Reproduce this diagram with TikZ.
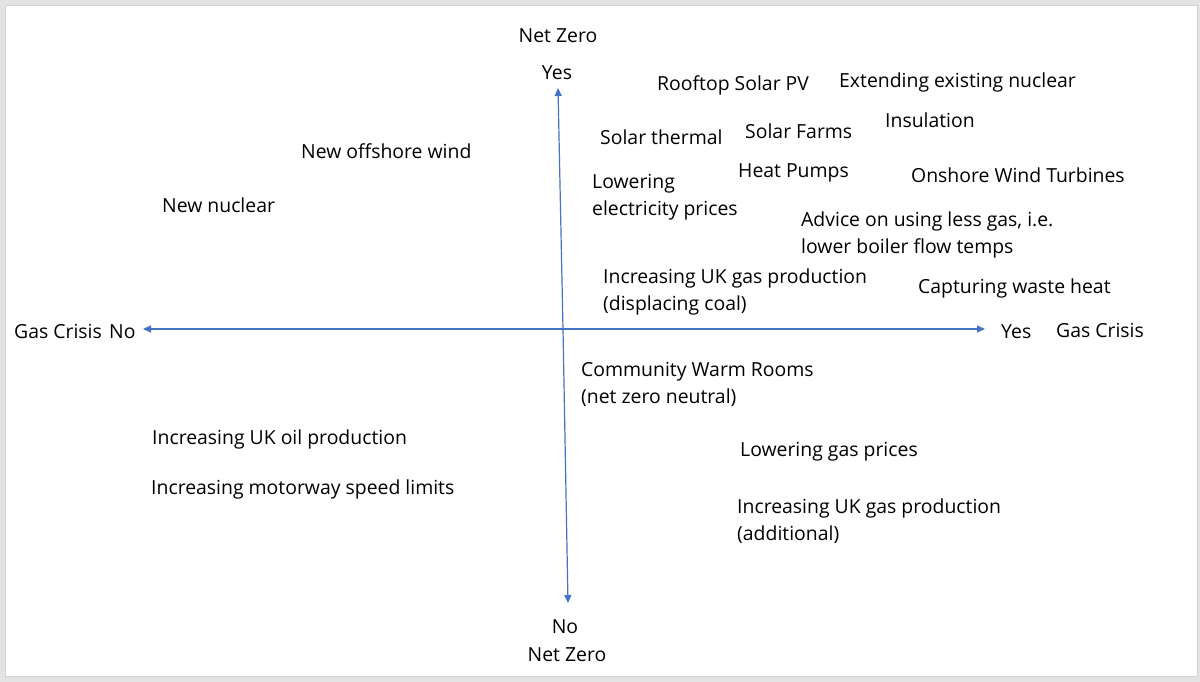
\documentclass[tikz,border=0pt]{standalone}
\usepackage{fontspec}
\setmainfont{Open Sans}
\usepackage{tikz}
\usetikzlibrary{arrows.meta, positioning}
\definecolor{axisblue}{HTML}{4472C4}
\definecolor{framegray}{HTML}{E3E3E3}
\definecolor{edgegray}{HTML}{D2D2D2}

\begin{document}
\begin{tikzpicture}[
    x=1pt, y=-1pt,
    lbl/.style={anchor=west, inner sep=0pt, align=left, yshift=-2pt,
                font=\fontsize{19.4}{27}\selectfont},
    axlbl/.style={inner sep=0pt, yshift=-1pt,
                font=\fontsize{19.4}{27}\selectfont},
    arr/.style={-{Triangle[length=8pt, width=7pt]}, axisblue, line width=1.2pt}
  ]
  % frame
  \fill[framegray] (0,0) rectangle (1200,682);
  \fill[white, draw=edgegray, line width=1pt] (5,6) rectangle (1197,676);
  \useasboundingbox (0,0) rectangle (1200,682);

  % axes
  \coordinate (west)  at (143,329);
  \coordinate (east)  at (985,329);
  \coordinate (north) at (558,88);
  \coordinate (south) at (568,603);
  \coordinate (mid)   at (563,329);
  \draw[arr] (mid) -- (west);
  \draw[arr] (mid) -- (east);
  \draw[arr] (mid) -- (north);
  \draw[arr] (mid) -- (south);

  % axis labels
  \node[axlbl] (nzyes)   at (557,72)  {Yes};
  \node[axlbl] (nztop)   at (558,35)  {Net Zero};
  \node[axlbl] (nzno)    at (565,626) {No};
  \node[axlbl] (nzbot)   at (567,654) {Net Zero};
  \node[lbl]   (gcleft)  at (14,329)  {Gas Crisis};
  \node[lbl]   (gcno)    at (109,330) {No};
  \node[lbl]   (gcyes)   at (1001,330) {Yes};
  \node[lbl]   (gcright) at (1056,328) {Gas Crisis};

  % measures
  \node[lbl] (rooftop)  at (657,83)  {Rooftop Solar PV};
  \node[lbl] (extnuc)   at (839,80)  {Extending existing nuclear};
  \node[lbl] (insul)    at (885,118) {Insulation};
  \node[lbl] (solth)    at (600,135) {Solar thermal};
  \node[lbl] (solfarm)  at (745,129) {Solar Farms};
  \node[lbl] (offwind)  at (301,149) {New offshore wind};
  \node[lbl] (heatpump) at (738,171) {Heat Pumps};
  \node[lbl] (onwind)   at (911,173) {Onshore Wind Turbines};
  \node[lbl] (lowelec)  at (592,195.5) {Lowering\\electricity prices};
  \node[lbl] (newnuc)   at (162,203) {New nuclear};
  \node[lbl] (advice)   at (801,232.5) {Advice on using less gas, i.e.\\lower boiler flow temps};
  \node[lbl] (ukgascoal) at (603,290) {Increasing UK gas production\\(displacing coal)};
  \node[lbl] (wasteheat) at (918,286) {Capturing waste heat};
  \node[lbl] (warmrooms) at (581,382.5) {Community Warm Rooms\\(net zero neutral)};
  \node[lbl] (ukoil)    at (152,437) {Increasing UK oil production};
  \node[lbl] (lowgas)   at (740,450) {Lowering gas prices};
  \node[lbl] (speed)    at (151,487) {Increasing motorway speed limits};
  \node[lbl] (ukgasadd) at (737,519.5) {Increasing UK gas production\\(additional)};
\end{tikzpicture}
\end{document}
